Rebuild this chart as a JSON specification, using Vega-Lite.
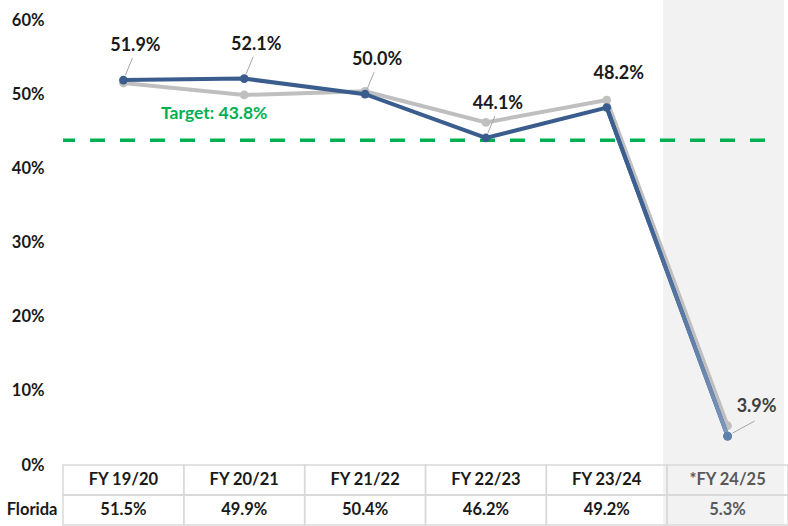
{
  "$schema": "https://vega.github.io/schema/vega-lite/v6.json",
  "padding": 0,
  "background": "white",
  "bounds": "flush",
  "spacing": 0,
  "config": {"view": {"stroke": null}, "font": "Lato", "concat": {"spacing": 0}},
  "datasets": {
    "rates": [
      {"fy": "FY 19/20", "series": "County", "value": 0.519},
      {"fy": "FY 20/21", "series": "County", "value": 0.521},
      {"fy": "FY 21/22", "series": "County", "value": 0.500},
      {"fy": "FY 22/23", "series": "County", "value": 0.441},
      {"fy": "FY 23/24", "series": "County", "value": 0.482},
      {"fy": "*FY 24/25", "series": "County", "value": 0.039},
      {"fy": "FY 19/20", "series": "Florida", "value": 0.515},
      {"fy": "FY 20/21", "series": "Florida", "value": 0.499},
      {"fy": "FY 21/22", "series": "Florida", "value": 0.504},
      {"fy": "FY 22/23", "series": "Florida", "value": 0.462},
      {"fy": "FY 23/24", "series": "Florida", "value": 0.492},
      {"fy": "*FY 24/25", "series": "Florida", "value": 0.053}
    ]
  },
  "vconcat": [
    {
      "width": 725,
      "height": 465,
      "data": {"name": "rates"},
      "encoding": {
        "y": {
          "field": "value", "type": "quantitative",
          "scale": {"domain": [0, 0.627], "nice": false, "zero": false},
          "axis": {"title": null, "values": [0, 0.1, 0.2, 0.3, 0.4, 0.5, 0.6], "format": ".0%", "domain": false, "ticks": false, "grid": false, "labelFontSize": 16.5, "labelFontWeight": "bold", "labelColor": "#1a1a1a", "labelPadding": 19, "minExtent": 63, "maxExtent": 63}
        }
      },
      "layer": [
        {
          "transform": [{"filter": "datum.fy == '*FY 24/25' && datum.series == 'Florida'"}],
          "mark": {"type": "rect", "color": "#f2f2f2", "xOffset": -4},
          "encoding": {
            "x": {"field": "fy", "type": "nominal", "scale": {"domain": ["FY 19/20", "FY 20/21", "FY 21/22", "FY 22/23", "FY 23/24", "*FY 24/25"], "paddingInner": 0, "paddingOuter": 0}, "axis": null},
            "y": {"datum": 0.627, "type": "quantitative"},
            "y2": {"datum": 0}
          }
        },
        {
          "transform": [{"filter": "datum.fy == 'FY 19/20' && datum.series == 'Florida'"}],
          "mark": {"type": "rule", "color": "#00b050", "strokeWidth": 3.5, "strokeDash": [15, 15], "xOffset": -23, "x2Offset": -25},
          "encoding": {"y": {"datum": 0.438, "type": "quantitative"}}
        },
        {
          "transform": [{"filter": "datum.series == 'Florida'"}],
          "mark": {"type": "line", "color": "#bfbfbf", "strokeWidth": 4, "point": {"filled": true, "size": 75, "color": "#bfbfbf"}},
          "encoding": {
            "x": {"field": "fy", "type": "nominal", "scale": {"domain": ["FY 19/20", "FY 20/21", "FY 21/22", "FY 22/23", "FY 23/24", "*FY 24/25"], "paddingInner": 0, "paddingOuter": 0}, "axis": null}
          }
        },
        {
          "transform": [{"filter": "datum.series == 'County'"}],
          "mark": {"type": "line", "color": "#3a5d8e", "strokeWidth": 4, "point": {"filled": true, "size": 75, "color": "#3a5d8e"}},
          "encoding": {
            "x": {"field": "fy", "type": "nominal", "scale": {"domain": ["FY 19/20", "FY 20/21", "FY 21/22", "FY 22/23", "FY 23/24", "*FY 24/25"], "paddingInner": 0, "paddingOuter": 0}, "axis": null}
          }
        },
        {
          "transform": [{"filter": "datum.series == 'County' && (datum.fy == 'FY 23/24' || datum.fy == '*FY 24/25')"}],
          "mark": {"type": "line", "strokeWidth": 4, "stroke": {"gradient": "linear", "x1": 0, "y1": 0, "x2": 0, "y2": 1, "stops": [{"offset": 0, "color": "#3a5d8e"}, {"offset": 0.35, "color": "#3f6294"}, {"offset": 1, "color": "#7d97bd"}]}},
          "encoding": {
            "x": {"field": "fy", "type": "nominal", "scale": {"domain": ["FY 19/20", "FY 20/21", "FY 21/22", "FY 22/23", "FY 23/24", "*FY 24/25"], "paddingInner": 0, "paddingOuter": 0}, "axis": null}
          }
        },
        {
          "transform": [{"filter": "datum.series == 'County' && datum.fy == '*FY 24/25'"}],
          "mark": {"type": "point", "filled": true, "size": 75, "color": "#5f7fad", "opacity": 1},
          "encoding": {
            "x": {"field": "fy", "type": "nominal", "scale": {"domain": ["FY 19/20", "FY 20/21", "FY 21/22", "FY 22/23", "FY 23/24", "*FY 24/25"], "paddingInner": 0, "paddingOuter": 0}, "axis": null}
          }
        },
        {
          "transform": [{"filter": "datum.series == 'County' && datum.fy != '*FY 24/25' && datum.fy != 'FY 23/24'"}],
          "mark": {"type": "rule", "color": "#a6a6a6", "strokeWidth": 1, "xOffset": 2, "yOffset": -5, "x2Offset": 9, "y2Offset": -22},
          "encoding": {
            "x": {"field": "fy", "type": "nominal", "scale": {"domain": ["FY 19/20", "FY 20/21", "FY 21/22", "FY 22/23", "FY 23/24", "*FY 24/25"], "paddingInner": 0, "paddingOuter": 0}, "axis": null},
            "x2": {"field": "fy"},
            "y2": {"field": "value"}
          }
        },
        {
          "transform": [{"filter": "datum.series == 'County' && datum.fy == '*FY 24/25'"}],
          "mark": {"type": "rule", "color": "#a6a6a6", "strokeWidth": 1, "xOffset": 5, "yOffset": -3, "x2Offset": 27, "y2Offset": -15},
          "encoding": {
            "x": {"field": "fy", "type": "nominal", "scale": {"domain": ["FY 19/20", "FY 20/21", "FY 21/22", "FY 22/23", "FY 23/24", "*FY 24/25"], "paddingInner": 0, "paddingOuter": 0}, "axis": null},
            "x2": {"field": "fy"},
            "y2": {"field": "value"}
          }
        },
        {
          "transform": [{"filter": "datum.series == 'County' && datum.fy != '*FY 24/25'"}],
          "mark": {"type": "text", "fontSize": 18, "fontWeight": "bold", "color": "#1a1a1a", "dx": 12, "dy": -34},
          "encoding": {
            "x": {"field": "fy", "type": "nominal", "scale": {"domain": ["FY 19/20", "FY 20/21", "FY 21/22", "FY 22/23", "FY 23/24", "*FY 24/25"], "paddingInner": 0, "paddingOuter": 0}, "axis": null},
            "text": {"field": "value", "type": "quantitative", "format": ".1%"}
          }
        },
        {
          "transform": [{"filter": "datum.series == 'County' && datum.fy == '*FY 24/25'"}],
          "mark": {"type": "text", "fontSize": 18, "fontWeight": "bold", "color": "#404040", "dx": 29, "dy": -29},
          "encoding": {
            "x": {"field": "fy", "type": "nominal", "scale": {"domain": ["FY 19/20", "FY 20/21", "FY 21/22", "FY 22/23", "FY 23/24", "*FY 24/25"], "paddingInner": 0, "paddingOuter": 0}, "axis": null},
            "text": {"field": "value", "type": "quantitative", "format": ".1%"}
          }
        },
        {
          "transform": [{"filter": "datum.fy == 'FY 19/20' && datum.series == 'Florida'"}],
          "mark": {"type": "text", "fontSize": 17.5, "fontWeight": "bold", "color": "#00b050", "dx": -30, "dy": -26},
          "encoding": {
            "x": {"datum": "FY 20/21", "type": "nominal", "scale": {"domain": ["FY 19/20", "FY 20/21", "FY 21/22", "FY 22/23", "FY 23/24", "*FY 24/25"], "paddingInner": 0, "paddingOuter": 0}, "axis": null},
            "y": {"datum": 0.438, "type": "quantitative"},
            "text": {"value": "Target: 43.8%"}
          }
        }
      ]
    },
    {
      "width": 725,
      "height": 60,
      "data": {"name": "rates"},
      "transform": [{"filter": "datum.series == 'Florida'"}],
      "layer": [
        {
          "transform": [{"filter": "datum.fy == '*FY 24/25'"}],
          "mark": {"type": "rect", "color": "#f2f2f2", "xOffset": -4},
          "encoding": {
            "x": {"field": "fy", "type": "nominal", "scale": {"domain": ["FY 19/20", "FY 20/21", "FY 21/22", "FY 22/23", "FY 23/24", "*FY 24/25"], "paddingInner": 0, "paddingOuter": 0}, "axis": null}
          }
        },
        {
          "mark": {"type": "rect", "fill": "transparent", "stroke": "#d9d9d9", "strokeWidth": 1.5},
          "encoding": {
            "x": {"field": "fy", "type": "nominal", "scale": {"domain": ["FY 19/20", "FY 20/21", "FY 21/22", "FY 22/23", "FY 23/24", "*FY 24/25"], "paddingInner": 0, "paddingOuter": 0}, "axis": null},
            "y": {"datum": "hdr", "type": "nominal", "scale": {"domain": ["hdr", "Florida"], "paddingInner": 0, "paddingOuter": 0}, "axis": {"title": null, "domain": false, "ticks": false, "labelExpr": "datum.value == 'Florida' ? 'Florida' : ''", "labelFontSize": 16.5, "labelFontWeight": "bold", "labelColor": "#1a1a1a", "labelPadding": 6, "minExtent": 63, "maxExtent": 63}}
          }
        },
        {
          "mark": {"type": "rect", "fill": "transparent", "stroke": "#d9d9d9", "strokeWidth": 1.5},
          "encoding": {
            "x": {"field": "fy", "type": "nominal", "scale": {"domain": ["FY 19/20", "FY 20/21", "FY 21/22", "FY 22/23", "FY 23/24", "*FY 24/25"], "paddingInner": 0, "paddingOuter": 0}, "axis": null},
            "y": {"datum": "Florida", "type": "nominal", "scale": {"domain": ["hdr", "Florida"], "paddingInner": 0, "paddingOuter": 0}, "axis": {"title": null, "domain": false, "ticks": false, "labelExpr": "datum.value == 'Florida' ? 'Florida' : ''", "labelFontSize": 16.5, "labelFontWeight": "bold", "labelColor": "#1a1a1a", "labelPadding": 6, "minExtent": 63, "maxExtent": 63}}
          }
        },
        {
          "mark": {"type": "text", "fontSize": 16.5, "fontWeight": "bold"},
          "encoding": {
            "x": {"field": "fy", "type": "nominal", "scale": {"domain": ["FY 19/20", "FY 20/21", "FY 21/22", "FY 22/23", "FY 23/24", "*FY 24/25"], "paddingInner": 0, "paddingOuter": 0}, "axis": null},
            "y": {"datum": "hdr", "type": "nominal", "scale": {"domain": ["hdr", "Florida"], "paddingInner": 0, "paddingOuter": 0}, "axis": {"title": null, "domain": false, "ticks": false, "labelExpr": "datum.value == 'Florida' ? 'Florida' : ''", "labelFontSize": 16.5, "labelFontWeight": "bold", "labelColor": "#1a1a1a", "labelPadding": 6, "minExtent": 63, "maxExtent": 63}},
            "text": {"field": "fy", "type": "nominal"},
            "color": {"condition": {"test": "datum.fy == '*FY 24/25'", "value": "#595959"}, "value": "#1a1a1a"}
          }
        },
        {
          "mark": {"type": "text", "fontSize": 16.5, "fontWeight": "bold"},
          "encoding": {
            "x": {"field": "fy", "type": "nominal", "scale": {"domain": ["FY 19/20", "FY 20/21", "FY 21/22", "FY 22/23", "FY 23/24", "*FY 24/25"], "paddingInner": 0, "paddingOuter": 0}, "axis": null},
            "y": {"datum": "Florida", "type": "nominal", "scale": {"domain": ["hdr", "Florida"], "paddingInner": 0, "paddingOuter": 0}, "axis": {"title": null, "domain": false, "ticks": false, "labelExpr": "datum.value == 'Florida' ? 'Florida' : ''", "labelFontSize": 16.5, "labelFontWeight": "bold", "labelColor": "#1a1a1a", "labelPadding": 6, "minExtent": 63, "maxExtent": 63}},
            "text": {"field": "value", "type": "quantitative", "format": ".1%"},
            "color": {"condition": {"test": "datum.fy == '*FY 24/25'", "value": "#595959"}, "value": "#1a1a1a"}
          }
        },
        {
          "transform": [{"filter": "datum.fy == 'FY 19/20'"}],
          "mark": {"type": "rule", "color": "#d9d9d9", "strokeWidth": 1.5, "xOffset": -63},
          "encoding": {
            "y": {"datum": "Florida", "type": "nominal", "bandPosition": 0, "scale": {"domain": ["hdr", "Florida"], "paddingInner": 0, "paddingOuter": 0}, "axis": {"title": null, "domain": false, "ticks": false, "labelExpr": "datum.value == 'Florida' ? 'Florida' : ''", "labelFontSize": 16.5, "labelFontWeight": "bold", "labelColor": "#1a1a1a", "labelPadding": 6, "minExtent": 63, "maxExtent": 63}}
          }
        }
      ]
    }
  ]
}
